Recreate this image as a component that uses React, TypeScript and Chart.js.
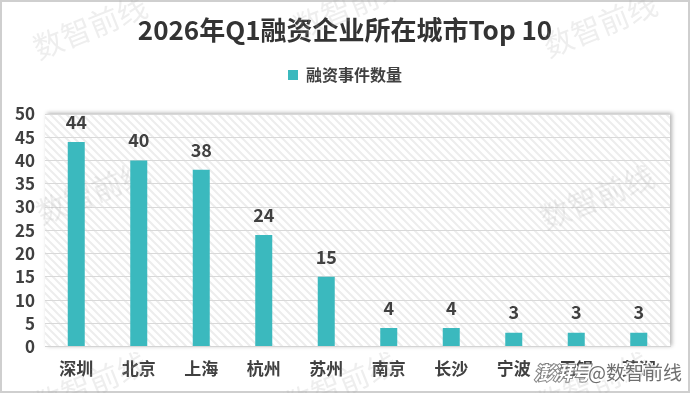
import React, { useEffect, useRef } from "react";
import { Chart, registerables } from "chart.js";

Chart.register(...registerables);

const titleText = "2026年Q1融资企业所在城市Top 10";
const seriesLabel = "融资事件数量";
const cities = ["深圳", "北京", "上海", "杭州", "苏州", "南京", "长沙", "宁波", "无锡", "芜湖"];
const counts = [44, 40, 38, 24, 15, 4, 4, 3, 3, 3];
const yMin = 0;
const yMax = 50;
const yStep = 5;
const watermarkText = "数智前线";
const creditPlatform = "澎湃号";
const creditAccount = "@数智前线";

const FONT = '"Noto Sans CJK SC", "Noto Sans", sans-serif';
const TEAL = "#3BB9BE";
const TEXT = "#404040";

function makeHatch(ctx: CanvasRenderingContext2D) {
  const s = 8;
  const c = document.createElement("canvas");
  c.width = s;
  c.height = s;
  const g = c.getContext("2d")!;
  g.fillStyle = "#ffffff";
  g.fillRect(0, 0, s, s);
  g.strokeStyle = "#ededed";
  g.lineWidth = 2;
  g.beginPath();
  g.moveTo(-2, -2);
  g.lineTo(s + 2, s + 2);
  g.moveTo(-s / 2 - 2, s / 2 - 2);
  g.lineTo(s / 2 + 2, s * 1.5 + 2);
  g.moveTo(s / 2 - 2, -s / 2 - 2);
  g.lineTo(s * 1.5 + 2, s / 2 + 2);
  g.stroke();
  return ctx.createPattern(c, "repeat");
}

const watermarkSpots: [number, number][] = [
  [90, 27], [350, 6], [600, 25],
  [93, 192], [597, 197],
  [90, 384], [340, 384], [592, 384],
];

const decorPlugin = {
  id: "decor",
  afterInit(chart: any) {
    const lg = chart.legend;
    if (lg) {
      const fit = lg.fit.bind(lg);
      lg.fit = () => {
        fit();
        lg.height += 21;
      };
    }
  },
  beforeDraw(chart: any) {
    const { ctx, width, height, chartArea: a } = chart;
    ctx.save();
    ctx.fillStyle = "#ffffff";
    ctx.fillRect(0, 0, width, height);
    ctx.shadowColor = "rgba(0,0,0,0.3)";
    ctx.shadowBlur = 4;
    ctx.shadowOffsetX = 2;
    ctx.shadowOffsetY = -1;
    ctx.fillStyle = "#ffffff";
    ctx.fillRect(a.left, a.top, a.right - a.left, a.bottom - a.top);
    ctx.shadowColor = "transparent";
    ctx.shadowBlur = 0;
    ctx.shadowOffsetX = 0;
    ctx.shadowOffsetY = 0;
    const pat = makeHatch(ctx);
    if (pat) {
      ctx.fillStyle = pat;
      ctx.fillRect(a.left, a.top, a.right - a.left, a.bottom - a.top);
    }
    ctx.strokeStyle = "#cfcfcf";
    ctx.lineWidth = 2;
    ctx.strokeRect(1, 1, width - 2, height - 2);
    ctx.restore();
  },
  beforeDatasetsDraw(chart: any) {
    const { ctx } = chart;
    ctx.save();
    ctx.font = `30px ${FONT}`;
    ctx.fillStyle = "rgba(170,170,170,0.2)";
    ctx.textAlign = "center";
    ctx.textBaseline = "middle";
    for (const [x, y] of watermarkSpots) {
      ctx.save();
      ctx.translate(x, y);
      ctx.rotate(-22 * Math.PI / 180);
      ctx.fillText(watermarkText, 0, 0);
      ctx.restore();
    }
    ctx.restore();
  },
  afterDatasetsDraw(chart: any) {
    const { ctx } = chart;
    const meta = chart.getDatasetMeta(0);
    const data = chart.data.datasets[0].data as number[];
    ctx.save();
    ctx.font = `bold 18px ${FONT}`;
    ctx.fillStyle = TEXT;
    ctx.textAlign = "center";
    ctx.textBaseline = "middle";
    meta.data.forEach((bar: any, i: number) => {
      ctx.fillText(String(data[i]), bar.x, bar.y - 20);
    });
    ctx.restore();
  },
  afterDraw(chart: any) {
    const { ctx } = chart;
    ctx.save();
    ctx.textAlign = "left";
    ctx.textBaseline = "middle";
    ctx.font = `italic bold 19px ${FONT}`;
    ctx.lineWidth = 2;
    ctx.strokeStyle = "rgba(110,110,110,0.85)";
    ctx.strokeText(creditPlatform, 534, 373);
    ctx.fillStyle = "#ffffff";
    ctx.fillText(creditPlatform, 534, 373);
    ctx.font = `19px ${FONT}`;
    ctx.lineWidth = 3;
    ctx.strokeStyle = "rgba(255,255,255,0.9)";
    ctx.strokeText(creditAccount, 588, 373);
    ctx.fillStyle = "#6e6e6e";
    ctx.fillText(creditAccount, 588, 373);
    ctx.restore();
  },
};

export default function App() {
  const ref = useRef<HTMLCanvasElement | null>(null);
  useEffect(() => {
    if (!ref.current) return;
    const chart = new Chart(ref.current, {
      type: "bar",
      data: {
        labels: cities,
        datasets: [
          {
            label: seriesLabel,
            data: counts,
            backgroundColor: TEAL,
            borderWidth: 0,
            categoryPercentage: 1,
            barPercentage: 0.272,
          },
        ],
      },
      options: {
        responsive: false,
        devicePixelRatio: 1,
        animation: false,
        layout: { padding: { left: 0, right: 0, top: 0, bottom: 2 } },
        plugins: {
          title: {
            display: true,
            text: titleText,
            color: "#333333",
            font: { family: FONT, size: 26, weight: "bold" },
            padding: { top: 14.4, bottom: 11.4 },
          },
          legend: {
            display: true,
            position: "top",
            labels: {
              boxWidth: 10,
              boxHeight: 10,
              padding: 10,
              color: TEXT,
              font: { family: FONT, size: 16, weight: "bold" },
            },
          },
          tooltip: { enabled: false },
        },
        scales: {
          x: {
            grid: { display: false, drawTicks: false },
            border: { display: true, color: "#d4d4d4" },
            ticks: {
              color: TEXT,
              padding: 12,
              font: { family: FONT, size: 17, weight: "bold" },
            },
          },
          y: {
            min: yMin,
            max: yMax,
            afterFit: (s: any) => {
              s.width = 45;
            },
            grid: { color: "#d9d9d9", drawTicks: false },
            border: { display: false },
            ticks: {
              stepSize: yStep,
              autoSkip: false,
              color: TEXT,
              padding: 10,
              font: { family: FONT, size: 17, weight: "bold" },
            },
          },
          yRightSpace: {
            type: "linear",
            position: "right",
            display: true,
            min: yMin,
            max: yMax,
            afterFit: (s: any) => {
              s.width = 20;
            },
            grid: { display: false, drawTicks: false },
            border: { display: false },
            ticks: { display: false },
          },
        },
      },
      plugins: [decorPlugin],
    } as any);
    return () => chart.destroy();
  }, []);
  return (
    <div style={{ position: "absolute", left: 0, top: 0, width: 690, height: 393 }}>
      <canvas ref={ref} width={690} height={393} style={{ display: "block" }} />
    </div>
  );
}
